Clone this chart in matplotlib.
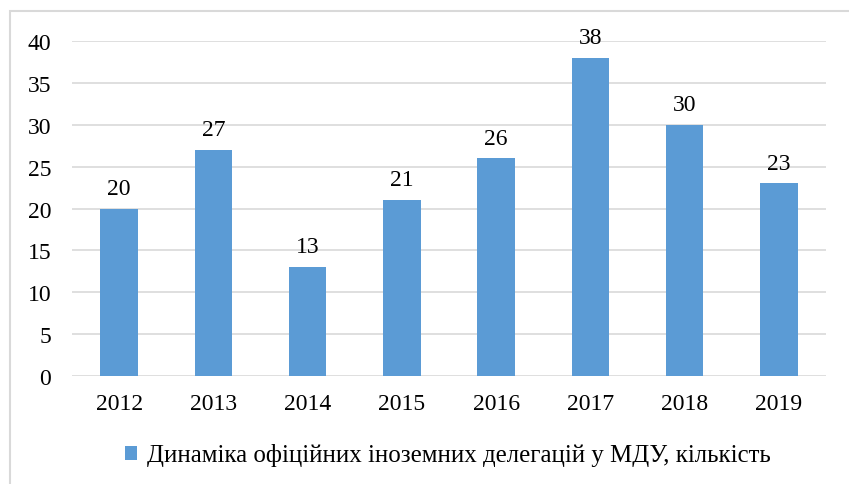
import matplotlib
matplotlib.use("Agg")
import matplotlib.pyplot as plt
from matplotlib.patches import Rectangle, Patch

years = ["2012", "2013", "2014", "2015", "2016", "2017", "2018", "2019"]
counts = [20, 27, 13, 21, 26, 38, 30, 23]
series_name = "Динаміка офіційних іноземних делегацій у МДУ, кількість"

plt.rcParams["font.family"] = ["Liberation Serif", "DejaVu Serif"]
bar_color = "#5B9BD5"
grid_color = "#D9D9D9"

W, H = 849, 485
fig = plt.figure(figsize=(W / 100, H / 100), dpi=100)

# outer chart frame (cut off at right/bottom in the reference)
fig.patches.append(Rectangle((10 / W, -0.1), 1.2, 1.1 - 12 / H, transform=fig.transFigure,
                             fill=False, edgecolor=grid_color, linewidth=1.5))

ax = fig.add_axes([72 / W, 1 - 377 / H, (826 - 72) / W, (377 - 42) / H])
x = range(len(years))
bars = ax.bar(x, counts, width=0.40, color=bar_color, zorder=3)

ax.set_ylim(0, 40)
ax.set_xlim(-0.5, len(years) - 0.5)
ax.set_yticks(range(0, 41, 5))
ax.set_xticks(list(x))
ax.set_xticklabels(years)
ax.tick_params(axis="both", length=0, labelsize=17)
ax.tick_params(axis="y", pad=15)
ax.tick_params(axis="x", pad=12)
ax.yaxis.grid(True, color=grid_color, linewidth=1.2, zorder=0)
for s in ax.spines.values():
    s.set_visible(False)

ax.bar_label(bars, labels=[str(c) for c in counts], padding=7, fontsize=17)

fig.legend(handles=[Patch(facecolor=bar_color, label=series_name)],
           loc="center", bbox_to_anchor=(448 / W, 1 - 456 / H), frameon=False,
           fontsize=17.9, handlelength=0.5, handleheight=0.5, handletextpad=0.4)

fig.savefig("out.png", dpi=100)
